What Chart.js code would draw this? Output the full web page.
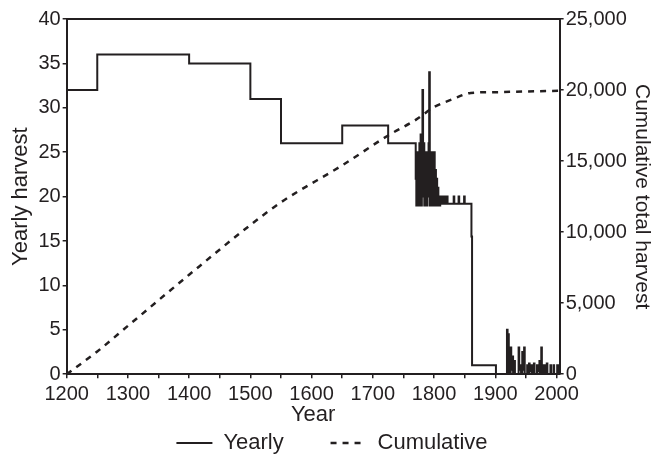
<!DOCTYPE html>
<html>
<head>
<meta charset="utf-8">
<script src="https://cdn.jsdelivr.net/npm/chart.js@4/dist/chart.umd.min.js"></script>
<style>
  body { margin: 0; background: #fff; }
</style>
</head>
<body>
<canvas id="mychart" width="662" height="460"></canvas>
<script>
//. yearly harvest (step values, each holds until the next year listed)
var yearlyYears = [
  1200, 1250, 1400, 1500, 1550, 1650, 1725,
  1770, 1771, 1772, 1773, 1774, 1775, 1776, 1777, 1778, 1779,
  1780, 1781, 1782, 1783, 1784, 1785, 1786, 1787, 1788, 1789,
  1790, 1791, 1792, 1793, 1794, 1795, 1796, 1797, 1798, 1799,
  1800, 1801, 1802, 1803, 1804, 1805, 1806, 1807, 1808, 1809,
  1810, 1811, 1812, 1813, 1814, 1815, 1816, 1817, 1818, 1819,
  1820, 1821, 1822, 1832, 1833, 1840, 1841, 1849, 1850,
  1861, 1862, 1901,
  1919, 1920, 1921, 1922, 1925, 1926, 1928, 1929, 1931, 1932,
  1938, 1939, 1941, 1942, 1944, 1945, 1947, 1948,
  1952, 1953, 1955, 1956, 1959, 1960, 1963, 1964, 1968, 1969,
  1972, 1973, 1975, 1976, 1977, 1980, 1981, 1984, 1985,
  1990, 1991, 1995, 1996, 2001, 2002, 2004, 2005
];
var yearlyHarvest = [
  32, 36, 35, 31, 26, 28, 26,
  22, 19, 25, 20, 23, 19, 26, 20, 27, 19,
  24, 32, 20, 26, 19, 24, 20, 25, 19, 23,
  20, 26, 34, 19, 22, 20, 25, 19, 24, 20,
  25, 19, 23, 20, 22, 19, 21, 19, 20, 19,
  19.2, 20, 19.2, 20, 19.2, 20, 19.2, 20, 19.2, 20,
  19.2, 20, 19.2, 20, 19.2, 20, 19.2, 20, 19.2,
  15.5, 1, 0,
  5, 1, 4.5, 0, 3, 0.5, 2, 0, 1.5, 0,
  3, 0.5, 1, 0, 2.5, 0.5, 3, 0,
  1, 0, 1.2, 0.3, 1, 0, 1.2, 0, 1, 0.3,
  1.5, 0, 3, 1, 0, 1, 0, 1.2, 0,
  1, 0, 1, 0, 1, 0, 1, 1
];

//. cumulative total harvest
var cumYears = [ 1200, 1250, 1300, 1400, 1500, 1550, 1650, 1725, 1770, 1800, 1830, 1860, 1900, 1950, 2005 ];
var cumTotal = [ 0, 1600, 3400, 7000, 10500, 12100, 14700, 16800, 17900, 18800, 19350, 19800, 19850, 19900, 19950 ];

var xTicks = [ 1200, 1300, 1400, 1500, 1600, 1700, 1800, 1900, 2000 ];

var FONT = '"Liberation Sans", Arial, sans-serif';
var INK = '#231f20';

function toPoints( xs, ys ){
  var pts = [];
  for( var i = 0; i < xs.length; i ++ ){
    pts.push( { x: xs[i], y: ys[i] } );
  }
  return pts;
}

var data = {
  datasets: [
    {
      label: 'Yearly',
      data: toPoints( yearlyYears, yearlyHarvest ),
      borderColor: INK,
      backgroundColor: INK,
      borderWidth: 2,
      stepped: true,
      pointRadius: 0,
      yAxisID: 'y',
      fill: false
    },
    {
      label: 'Cumulative',
      data: toPoints( cumYears, cumTotal ),
      borderColor: INK,
      backgroundColor: INK,
      borderWidth: 2.5,
      borderDash: [ 6, 6 ],
      cubicInterpolationMode: 'monotone',
      pointRadius: 0,
      yAxisID: 'y1',
      fill: false
    }
  ]
};

var tickFont = { family: FONT, size: 20, lineHeight: 1.0 };

var options = {
  responsive: false,
  animation: false,
  layout: { padding: { left: 8, right: 6, top: 11, bottom: -4 } },
  plugins: {
    tooltip: { enabled: false },
    legend: {
      position: 'bottom',
      labels: {
        color: INK,
        font: { family: FONT, size: 22, lineHeight: 1.0 },
        usePointStyle: true,
        pointStyle: 'line',
        pointStyleWidth: 36,
        padding: 4,
        generateLabels: function( chart ){
          var items = Chart.defaults.plugins.legend.labels.generateLabels( chart );
          items.forEach( function( it ){
            var ds = chart.data.datasets[it.datasetIndex];
            it.lineDash = ds.borderDash || [];
            it.lineWidth = ds.borderWidth;
            //. wide gap after the first entry, as in the original
            if( it.datasetIndex == 0 ){ it.text = it.text + '       '; }
          });
          return items;
        }
      }
    }
  },
  scales: {
    x: {
      type: 'linear',
      min: 1200,
      max: 2005,
      afterBuildTicks: function( axis ){
        var t = [];
        for( var v = 1200; v <= 2000; v += 50 ){ t.push( { value: v } ); }
        axis.ticks = t;
      },
      ticks: {
        color: INK,
        font: tickFont,
        padding: 6,
        maxRotation: 0,
        autoSkip: false,
        callback: function( v ){ return xTicks.indexOf( v ) >= 0 ? String( v ) : ''; }
      },
      grid: { drawOnChartArea: false, color: INK, tickLength: 4, lineWidth: 1.5 },
      border: { color: INK, width: 2 },
      title: { display: true, text: 'Year', color: INK, font: { family: FONT, size: 22, lineHeight: 0.4 }, padding: { top: 0, bottom: 9 } }
    },
    xTop: {
      type: 'linear',
      position: 'top',
      min: 1200,
      max: 2005,
      ticks: { display: false },
      grid: { display: false },
      border: { color: INK, width: 2 }
    },
    y: {
      type: 'linear',
      position: 'left',
      min: 0,
      max: 40,
      ticks: { stepSize: 5, color: INK, font: tickFont, padding: 2 },
      grid: { drawOnChartArea: false, color: INK, tickLength: 4, lineWidth: 1.5 },
      border: { color: INK, width: 2 },
      title: { display: true, text: 'Yearly harvest', color: INK, font: { family: FONT, size: 22 }, padding: { top: 0, bottom: 2 } }
    },
    y1: {
      type: 'linear',
      position: 'right',
      min: 0,
      max: 25000,
      ticks: { stepSize: 5000, color: INK, font: tickFont, padding: 2 },
      grid: { drawOnChartArea: false, color: INK, tickLength: 4, lineWidth: 1.5 },
      border: { color: INK, width: 2 },
      title: { display: true, text: 'Cumulative total harvest', color: INK, font: { family: FONT, size: 21 }, padding: { top: 2, bottom: 0 } }
    }
  }
};

var ctx = document.getElementById( 'mychart' );
var chart = new Chart( ctx, {
  type: 'line',
  data: data,
  options: options
});
</script>
</body>
</html>
